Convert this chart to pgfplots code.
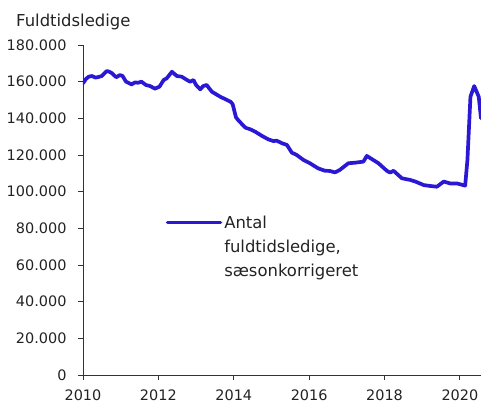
\documentclass[border=0pt]{standalone}
\usepackage{fontspec}
\setmainfont{DejaVu Sans}
\usepackage{pgfplots}
\pgfplotsset{compat=1.18}
\definecolor{lineblue}{RGB}{42,24,212}
\definecolor{txt}{RGB}{35,35,35}
\definecolor{axc}{RGB}{50,50,50}
\begin{document}
\begin{tikzpicture}
\path[use as bounding box] (-83bp,-28bp) rectangle (398bp,375bp);
\begin{axis}[
  at={(0,0)}, anchor=south west,
  scale only axis, width=398bp, height=330bp,
  xmin=2010, xmax=2020.56, ymin=0, ymax=180000,
  axis x line*=bottom, axis y line*=left,
  axis line style={-, draw=axc, line width=0.9bp},
  xtick={2010,2012,2014,2016,2018,2020},
  xticklabels={2010,2012,2014,2016,2018,2020},
  ytick={0,20000,40000,60000,80000,100000,120000,140000,160000,180000},
  yticklabels={0,20.000,40.000,60.000,80.000,100.000,120.000,140.000,160.000,180.000},
  scaled y ticks=false, scaled x ticks=false,
  tick align=outside, major tick length=5bp,
  tick style={draw=axc, line width=0.9bp},
  every tick label/.append style={font=\fontsize{14.5}{17}\selectfont, text=txt},
  yticklabel style={xshift=-8bp},
  xticklabel style={inner ysep=0.5bp, yshift=-9bp},
  legend style={draw=none, fill=none, at={(0.2,0.493)}, anchor=north west,
    font=\fontsize{16.5}{24}\selectfont, text=txt,
    cells={align=left}},
  legend cell align=left,
  legend image code/.code={\draw[#1, line width=3.5bp] (0bp,25bp) -- (53bp,25bp);},
  clip=true,
]
\addplot[lineblue, line width=3.7bp, line join=round, line cap=round] coordinates {
(2010.00,159100) (2010.08,161500) (2010.15,162700) (2010.24,163100) (2010.33,162200)
(2010.42,162600) (2010.50,163100) (2010.63,165800) (2010.70,165400) (2010.77,164600)
(2010.88,162400) (2010.98,163600) (2011.05,163100) (2011.14,160000) (2011.29,158500)
(2011.38,159600) (2011.46,159400) (2011.55,160000) (2011.67,158200) (2011.78,157600)
(2011.91,156200) (2012.03,157300) (2012.14,160900) (2012.22,161800) (2012.36,165400)
(2012.49,163100) (2012.62,162700) (2012.76,160900) (2012.84,160000) (2012.93,160900)
(2013.00,158200) (2013.11,155800) (2013.19,157600) (2013.28,158200) (2013.42,154500)
(2013.64,151800) (2013.91,149100) (2013.97,147800) (2014.06,140500) (2014.13,138700)
(2014.31,134900) (2014.44,134000) (2014.57,132700) (2014.75,130400) (2014.92,128500)
(2015.05,127600) (2015.14,127800) (2015.28,126400) (2015.41,125500) (2015.54,121300)
(2015.67,120000) (2015.85,117300) (2016.02,115500) (2016.24,112700) (2016.42,111400)
(2016.55,111300) (2016.68,110500) (2016.81,111800) (2017.04,115500) (2017.22,115800)
(2017.44,116400) (2017.53,119500) (2017.70,117300) (2017.84,115500) (2018.06,111400)
(2018.15,110400) (2018.24,111400) (2018.46,107300) (2018.68,106400) (2018.82,105500)
(2019.04,103600) (2019.21,103100) (2019.39,102700) (2019.57,105500) (2019.74,104500)
(2019.92,104500) (2020.14,103300) (2020.20,117300) (2020.28,151800) (2020.38,157600)
(2020.50,151800) (2020.56,140000)
};
\addlegendentry{Antal\\fuldtidsledige,\\sæsonkorrigeret}
\end{axis}
\node[anchor=base west, font=\fontsize{16.5}{20}\selectfont, text=txt, inner sep=0pt] at (-67bp,348bp) {Fuldtidsledige};
\end{tikzpicture}
\end{document}
